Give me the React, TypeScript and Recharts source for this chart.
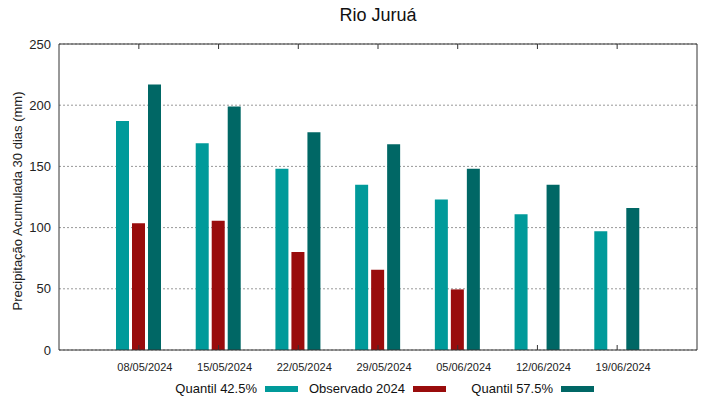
import { BarChart, Bar, XAxis, YAxis, CartesianGrid, Legend } from 'recharts';

const dates = ['08/05/2024', '15/05/2024', '22/05/2024', '29/05/2024', '05/06/2024', '12/06/2024', '19/06/2024'];
const quantil425 = [187, 169, 148, 135, 123, 111, 97];
const observado2024: (number | null)[] = [103.5, 105.5, 80, 65.5, 49.5, null, null];
const quantil575 = [217, 199, 178, 168, 148, 135, 116];
const yTicks = [0, 50, 100, 150, 200, 250];

const COLORS = {
  q425: '#009a9a',
  obs: '#990c0c',
  q575: '#006765',
};

const FONT = '"Liberation Sans", Arial, sans-serif';

const data = dates.map((d, i) => ({
  date: d,
  q425: quantil425[i],
  obs: observado2024[i],
  q575: quantil575[i],
}));

const legendItems = [
  { label: 'Quantil 42.5%', color: COLORS.q425 },
  { label: 'Observado 2024', color: COLORS.obs },
  { label: 'Quantil 57.5%', color: COLORS.q575 },
];

function GnuLegend() {
  return (
    <div style={{ display: 'flex', paddingLeft: 152, paddingTop: 4, fontFamily: FONT, fontSize: 13, color: '#111' }}>
      {legendItems.map((it) => (
        <div key={it.label} style={{ width: 148, display: 'flex', alignItems: 'center' }}>
          <span style={{ width: 105, textAlign: 'right', whiteSpace: 'nowrap' }}>{it.label}</span>
          <span style={{ width: 33, height: 6, marginLeft: 8, background: it.color, display: 'inline-block' }} />
        </div>
      ))}
    </div>
  );
}

export default function App() {
  const axisColor = '#333';
  return (
    <div style={{ position: 'absolute', left: 0, top: 0, width: 719, height: 399, background: '#fff' }}>
      <div
        style={{
          position: 'absolute',
          left: 59,
          width: 638,
          top: 6,
          lineHeight: '18px',
          textAlign: 'center',
          fontFamily: FONT,
          fontSize: 18,
          color: '#111',
        }}
      >
        Rio Juruá
      </div>
      <BarChart
        width={719}
        height={399}
        data={data}
        margin={{ top: 44, right: 22, left: 0, bottom: 0 }}
        barSize={13}
        barGap={3}
      >
        <CartesianGrid vertical={false} stroke="#999" strokeDasharray="2 2" />
        <XAxis
          dataKey="date"
          padding={{ left: 40, right: 40 }}
          height={27}
          tick={{ fill: '#222', fontSize: 11, fontFamily: FONT, dx: 6 }}
          tickMargin={7}
          tickLine={false}
          axisLine={{ stroke: axisColor }}
        />
        <XAxis
          xAxisId="top"
          orientation="top"
          mirror
          dataKey="date"
          padding={{ left: 40, right: 40 }}
          tickSize={5}
          tickFormatter={() => ''}
          tickLine={{ stroke: axisColor }}
          axisLine={{ stroke: axisColor }}
        />
        <XAxis
          xAxisId="bottomIn"
          orientation="bottom"
          mirror
          dataKey="date"
          padding={{ left: 40, right: 40 }}
          tickSize={5}
          tickFormatter={() => ''}
          tickLine={{ stroke: axisColor }}
          axisLine={false}
        />
        <YAxis
          domain={[0, 250]}
          ticks={yTicks}
          width={59}
          tickLine={false}
          axisLine={{ stroke: axisColor }}
          tick={{ fill: '#222', fontSize: 13, fontFamily: FONT }}
          label={{
            value: 'Precipitação Acumulada 30 dias (mm)',
            angle: -90,
            position: 'insideLeft',
            offset: 17,
            dy: 4,
            style: { textAnchor: 'middle', fill: '#222', fontSize: 13, fontFamily: FONT },
          }}
        />
        <YAxis
          yAxisId="right"
          orientation="right"
          mirror
          domain={[0, 250]}
          ticks={yTicks}
          tickSize={5}
          tickFormatter={() => ''}
          tickLine={{ stroke: axisColor }}
          axisLine={{ stroke: axisColor }}
        />
        <Legend verticalAlign="bottom" height={22} content={<GnuLegend />} />
        <Bar dataKey="q425" name="Quantil 42.5%" fill={COLORS.q425} isAnimationActive={false} />
        <Bar dataKey="obs" name="Observado 2024" fill={COLORS.obs} isAnimationActive={false} />
        <Bar dataKey="q575" name="Quantil 57.5%" fill={COLORS.q575} isAnimationActive={false} />
      </BarChart>
    </div>
  );
}
